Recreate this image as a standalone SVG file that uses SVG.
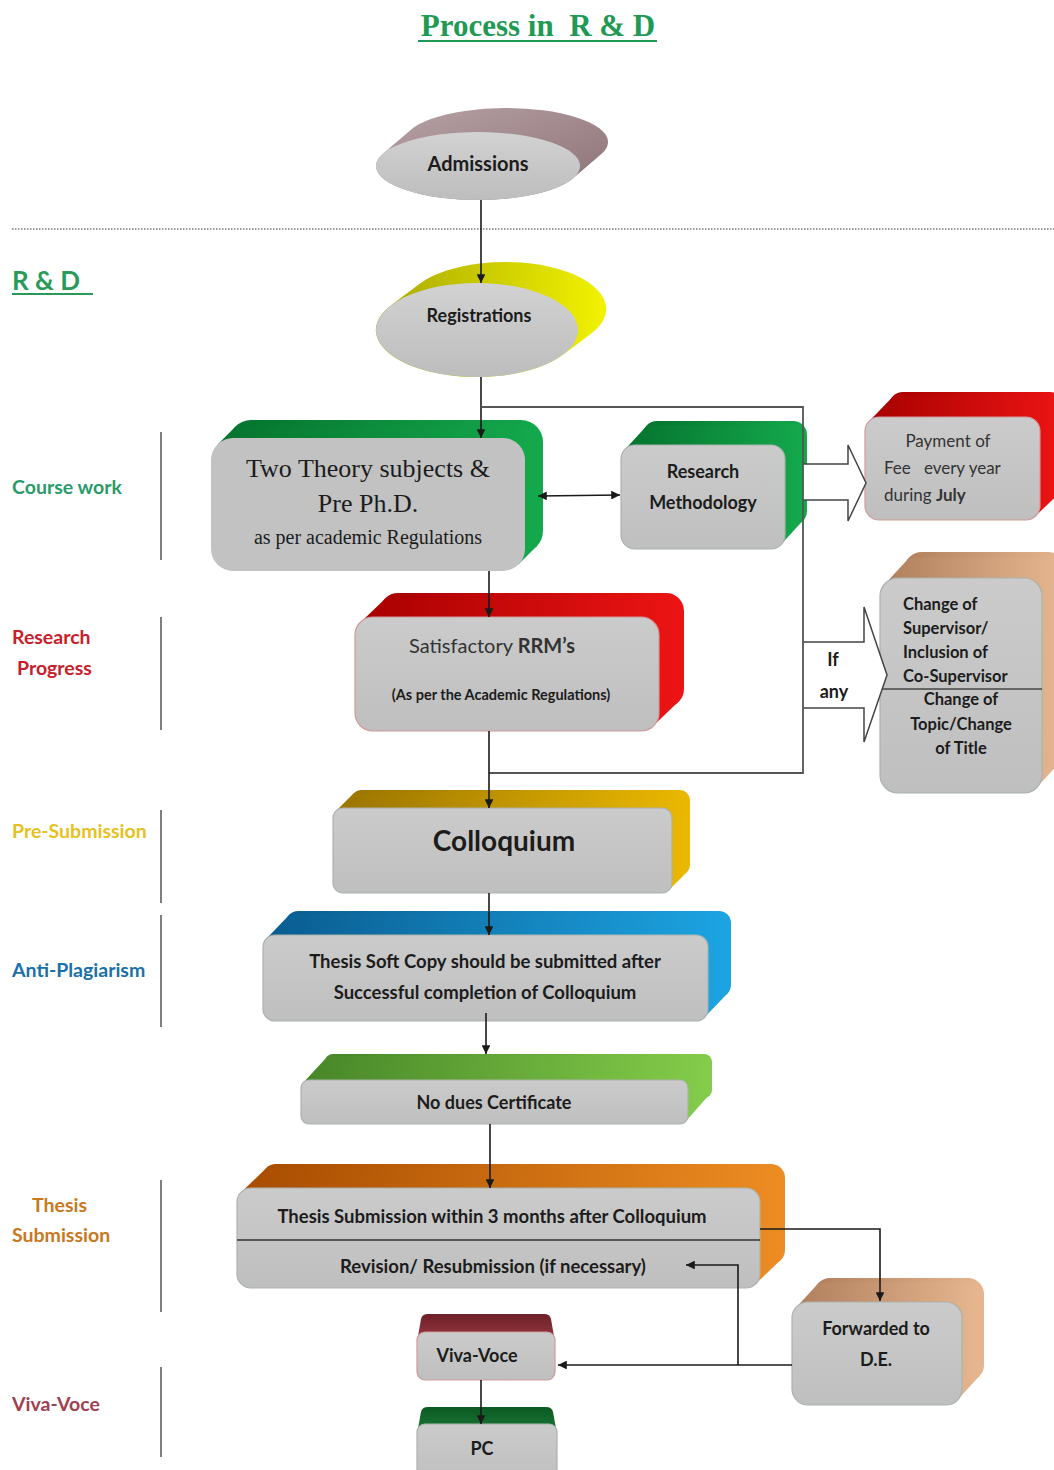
<svg xmlns="http://www.w3.org/2000/svg" width="1054" height="1470" viewBox="0 0 1054 1470">
<style>
text{font-family:Lato,"Open Sans","Liberation Sans",sans-serif;fill:#1c1c1c}
.b{font-weight:bold}
.c{text-anchor:middle}
.front{fill:url(#gFront);stroke:#a9b3ad;stroke-width:1.2}
.frontR{fill:url(#gFront);stroke:#d09a9a;stroke-width:1.2}
.conn{fill:none;stroke:#1a1a1a;stroke-width:1.6}
.loop{fill:none;stroke:#555;stroke-width:1.8}
.block{fill:#fff;stroke:#444;stroke-width:1.5}
.sep{stroke:#555;stroke-width:1.5}
.lbl{font-weight:bold;font-size:19.5px}
</style>
<defs>
<linearGradient id="gFront" x1="0" y1="0" x2="0" y2="1"><stop offset="0" stop-color="#cbcbcb"/><stop offset="1" stop-color="#bfbfbf"/></linearGradient>
<linearGradient id="gEll" x1="0" y1="0" x2="0" y2="1"><stop offset="0" stop-color="#d2d2d2"/><stop offset="1" stop-color="#bdbdbd"/></linearGradient>
<linearGradient id="gAdm" x1="0" y1="0" x2="1" y2="1"><stop offset="0" stop-color="#b9a3a6"/><stop offset="1" stop-color="#8a7074"/></linearGradient>
<linearGradient id="gReg" x1="0" y1="0" x2="1" y2="0"><stop offset="0" stop-color="#a8a800"/><stop offset="1" stop-color="#f2f200"/></linearGradient>
<linearGradient id="gGreen" x1="0" y1="0" x2="1" y2="0"><stop offset="0" stop-color="#05732e"/><stop offset="1" stop-color="#14a84c"/></linearGradient>
<linearGradient id="gRed" x1="0" y1="0" x2="1" y2="0"><stop offset="0" stop-color="#a80000"/><stop offset="1" stop-color="#ec1414"/></linearGradient>
<linearGradient id="gTan" x1="0" y1="0" x2="1" y2="0"><stop offset="0" stop-color="#b0805e"/><stop offset="1" stop-color="#e6b690"/></linearGradient>
<linearGradient id="gGold" x1="0" y1="0" x2="1" y2="0"><stop offset="0" stop-color="#9a7400"/><stop offset="1" stop-color="#eab800"/></linearGradient>
<linearGradient id="gBlue" x1="0" y1="0" x2="1" y2="0"><stop offset="0" stop-color="#0a5c90"/><stop offset="1" stop-color="#1ca4e2"/></linearGradient>
<linearGradient id="gLime" x1="0" y1="0" x2="1" y2="0"><stop offset="0" stop-color="#488628"/><stop offset="1" stop-color="#84cc4a"/></linearGradient>
<linearGradient id="gOrange" x1="0" y1="0" x2="1" y2="0"><stop offset="0" stop-color="#a84c00"/><stop offset="1" stop-color="#ec8c22"/></linearGradient>
<linearGradient id="gMaroon" x1="0" y1="0" x2="0" y2="1"><stop offset="0" stop-color="#6e2028"/><stop offset="1" stop-color="#9a3a44"/></linearGradient>
<linearGradient id="gDkGreen" x1="0" y1="0" x2="0" y2="1"><stop offset="0" stop-color="#0c5a22"/><stop offset="1" stop-color="#1a7a36"/></linearGradient>
<marker id="arr" viewBox="0 0 10 10" refX="10" refY="5" markerWidth="5.5" markerHeight="5.5" orient="auto-start-reverse" markerUnits="strokeWidth"><path d="M0,0 L10,5 L0,10 Z" fill="#1a1a1a"/></marker>
</defs>
<rect width="1054" height="1470" fill="#fff"/>

<!-- title -->
<g id="title">
<text x="538" y="36" class="c" style="font-family:'Liberation Serif',serif;font-weight:bold;font-size:31px;fill:#1e9a55" xml:space="preserve">Process in  R &amp; D</text>
<line x1="418" y1="41" x2="657" y2="41" stroke="#1e9a55" stroke-width="2"/>
</g>
<line x1="12" y1="229" x2="1054" y2="229" stroke="#777" stroke-width="1.6" stroke-dasharray="1.5,1.5"/>
<g id="rd-label">
<text x="12" y="290" style="font-weight:bold;font-size:26px;fill:#2a9a5a">R &amp; D</text>
<line x1="12" y1="294" x2="93" y2="294" stroke="#2a9a5a" stroke-width="2"/>
</g>

<!-- side labels -->
<g id="side-labels">
<text x="12" y="494" class="lbl" style="fill:#2a9a6a">Course work</text>
<line x1="161" y1="432" x2="161" y2="560" class="sep"/>
<text x="12" y="644" class="lbl" style="fill:#c8202a">Research</text>
<text x="17" y="675" class="lbl" style="fill:#c8202a">Progress</text>
<line x1="161" y1="617" x2="161" y2="730" class="sep"/>
<text x="12" y="838" class="lbl" style="fill:#e8c020">Pre-Submission</text>
<line x1="161" y1="810" x2="161" y2="903" class="sep"/>
<text x="12" y="977" class="lbl" style="fill:#1a70a8">Anti-Plagiarism</text>
<line x1="161" y1="915" x2="161" y2="1027" class="sep"/>
<text x="32" y="1212" class="lbl" style="fill:#c87820">Thesis</text>
<text x="12" y="1242" class="lbl" style="fill:#c87820">Submission</text>
<line x1="161" y1="1180" x2="161" y2="1312" class="sep"/>
<text x="12" y="1411" class="lbl" style="fill:#a04050">Viva-Voce</text>
<line x1="161" y1="1367" x2="161" y2="1457" class="sep"/>
</g>

<!-- Admissions -->
<g id="admissions">
<path d="M382.9,153.7 L410.9,129.7 A102,34 0 1 1 601.1,154.3 L573.1,178.3 A102,34 0 0 1 382.9,153.7 Z" fill="url(#gAdm)"/>
<ellipse cx="478" cy="166" rx="102" ry="34" fill="url(#gEll)"/>
<text x="478" y="171" class="b c" style="font-size:20px">Admissions</text>
</g>

<!-- Registrations -->
<g id="registrations">
<path d="M391,305.2 L419,284.2 A101,47 0 1 1 591,333.8 L563,354.8 A101,47 0 0 1 391,305.2 Z" fill="url(#gReg)"/>
<ellipse cx="477" cy="330" rx="101" ry="47" fill="url(#gEll)"/>
<text x="479" y="322" class="b c" style="font-size:18px">Registrations</text>
</g>

<!-- Two theory -->
<g id="two-theory">
<rect x="229" y="420" width="314" height="133" rx="22" fill="url(#gGreen)"/>
<polygon points="217.6,444.6 235.6,426.6 536.4,426.6 536.4,546.4 518.4,564.4" fill="url(#gGreen)"/>
<rect x="211" y="438" width="314" height="133" rx="22" fill="#c2c2c2"/>
<text x="368" y="477" class="c" style="font-family:'Liberation Serif',serif;font-size:26px">Two Theory subjects &amp;</text>
<text x="368" y="512" class="c" style="font-family:'Liberation Serif',serif;font-size:26px">Pre Ph.D.</text>
<text x="368" y="544" class="c" style="font-family:'Liberation Serif',serif;font-size:20px">as per academic Regulations</text>
</g>

<!-- Research Methodology -->
<g id="research-methodology">
<rect x="643" y="421" width="164" height="104" rx="14" fill="url(#gGreen)"/>
<polygon points="625.2,449.2 647.2,425.2 802.8,425.2 802.8,520.8 780.8,544.8" fill="url(#gGreen)"/>
<rect x="621" y="445" width="164" height="104" rx="14" class="front"/>
<text x="703" y="478" class="b c" style="font-size:18px">Research</text>
<text x="703" y="509" class="b c" style="font-size:18px">Methodology</text>
</g>

<!-- Payment -->
<g id="payment">
<rect x="889" y="392" width="175" height="103" rx="14" fill="url(#gRed)"/>
<polygon points="869.2,421.2 893.2,396.2 1060.8,396.2 1060.8,491.8 1035.8,515.8" fill="url(#gRed)"/>
<rect x="865" y="417" width="175" height="103" rx="14" class="frontR"/>
<text x="948" y="447" class="c" style="font-size:17px;fill:#333">Payment of</text>
<text x="884" y="474" style="font-size:17px;fill:#333" xml:space="preserve">Fee   every year</text>
<text x="884" y="501" style="font-size:17px;fill:#333">during <tspan class="b">July</tspan></text>
</g>

<!-- Change -->
<g id="change">
<rect x="904" y="552" width="162" height="215" rx="18" fill="url(#gTan)"/>
<polygon points="885.4,583.4 909.4,557.4 1060.6,557.4 1060.6,761.6 1036.6,787.6" fill="url(#gTan)"/>
<rect x="880" y="578" width="162" height="215" rx="18" class="front"/>
<line x1="880" y1="689" x2="1042" y2="689" stroke="#444" stroke-width="1.4"/>
<text x="903" y="610" class="b" style="font-size:16.5px">Change of</text>
<text x="903" y="634" class="b" style="font-size:16.5px">Supervisor/</text>
<text x="903" y="658" class="b" style="font-size:16.5px">Inclusion of</text>
<text x="903" y="682" class="b" style="font-size:16.5px">Co-Supervisor</text>
<text x="961" y="705" class="b c" style="font-size:16.5px">Change of</text>
<text x="961" y="730" class="b c" style="font-size:16.5px">Topic/Change</text>
<text x="961" y="754" class="b c" style="font-size:16.5px">of Title</text>
</g>

<!-- block arrows -->
<g id="block-arrows">
<path class="block" d="M803,464 L848,464 L848,445 L866,483 L848,521 L848,500 L803,500"/>
<path class="block" d="M803,642 L864,642 L864,607 L887,675 L864,742 L864,708 L803,708"/>
<text x="833" y="666" class="b c" style="font-size:18px">If</text>
<text x="834" y="698" class="b c" style="font-size:18px">any</text>
</g>

<!-- RRM -->
<g id="rrm">
<rect x="380" y="593" width="304" height="114" rx="18" fill="url(#gRed)"/>
<polygon points="360.4,622.4 385.4,598.4 678.6,598.4 678.6,701.6 653.6,725.6" fill="url(#gRed)"/>
<rect x="355" y="617" width="304" height="114" rx="18" class="frontR"/>
<text x="492" y="653" class="c" style="font-size:20px;fill:#333">Satisfactory <tspan class="b">RRM’s</tspan></text>
<text x="501" y="700" class="b c" style="font-size:14.5px">(As per the Academic Regulations)</text>
</g>

<!-- Colloquium -->
<g id="colloquium">
<rect x="351" y="790" width="339" height="85" rx="10" fill="url(#gGold)"/>
<polygon points="336,811 354,793 687,793 687,872 669,890" fill="url(#gGold)"/>
<rect x="333" y="808" width="339" height="85" rx="10" class="front"/>
<text x="504" y="851" class="b c" style="font-size:28px">Colloquium</text>
</g>

<!-- Anti-plagiarism -->
<g id="anti-plagiarism">
<rect x="286" y="911" width="445" height="86" rx="12" fill="url(#gBlue)"/>
<polygon points="266.6,938.6 289.6,914.6 727.4,914.6 727.4,993.4 704.4,1017.4" fill="url(#gBlue)"/>
<rect x="263" y="935" width="445" height="86" rx="12" class="front"/>
<text x="485" y="968" class="b c" style="font-size:18.5px">Thesis Soft Copy should be submitted after</text>
<text x="485" y="999" class="b c" style="font-size:18.5px">Successful completion of Colloquium</text>
</g>

<!-- No dues -->
<g id="no-dues">
<rect x="325" y="1054" width="387" height="44" rx="8" fill="url(#gLime)"/>
<polygon points="303.4,1082.4 327.4,1056.4 708.6,1056.4 708.6,1095.6 685.6,1121.6" fill="url(#gLime)"/>
<rect x="301" y="1080" width="387" height="44" rx="8" class="front"/>
<text x="494" y="1109" class="b c" style="font-size:18px">No dues Certificate</text>
</g>

<!-- Thesis submission -->
<g id="thesis-submission">
<rect x="262" y="1164" width="523" height="100" rx="14" fill="url(#gOrange)"/>
<polygon points="241.2,1192.2 266.2,1168.2 780.8,1168.2 780.8,1259.8 755.8,1283.8" fill="url(#gOrange)"/>
<rect x="237" y="1188" width="523" height="100" rx="14" class="front"/>
<line x1="237" y1="1240" x2="760" y2="1240" stroke="#555" stroke-width="2"/>
<text x="492" y="1223" class="b c" style="font-size:18.5px">Thesis Submission within 3 months after Colloquium</text>
<text x="493" y="1273" class="b c" style="font-size:18.5px">Revision/ Resubmission (if necessary)</text>
</g>

<!-- Forwarded -->
<g id="forwarded">
<rect x="814" y="1278" width="170" height="103" rx="16" fill="url(#gTan)"/>
<polygon points="796.8,1306.8 818.8,1282.8 979.2,1282.8 979.2,1376.2 957.2,1400.2" fill="url(#gTan)"/>
<rect x="792" y="1302" width="170" height="103" rx="16" class="front"/>
<text x="876" y="1335" class="b c" style="font-size:18px">Forwarded to</text>
<text x="876" y="1366" class="b c" style="font-size:18px">D.E.</text>
</g>

<!-- Viva -->
<g id="viva-voce">
<path d="M417,1342 L421,1319 Q422,1314 428,1314 L544,1314 Q550,1314 551,1319 L555,1342 Z" fill="url(#gMaroon)"/>
<rect x="417" y="1332" width="138" height="48" rx="8" class="frontR"/>
<text x="477" y="1362" class="b c" style="font-size:18px">Viva-Voce</text>
</g>

<!-- PC -->
<g id="pc">
<path d="M417,1434 L421,1412 Q422,1407 428,1407 L546,1407 Q552,1407 553,1412 L557,1434 Z" fill="url(#gDkGreen)"/>
<rect x="417" y="1424" width="140" height="56" rx="8" class="front"/>
<text x="482" y="1455" class="b c" style="font-size:18px">PC</text>
</g>

<!-- connectors -->
<g id="connectors">
<path class="conn" d="M481,200 L481,283" marker-end="url(#arr)"/>
<path class="conn" d="M481,377 L481,438" marker-end="url(#arr)"/>
<path class="loop" d="M481,407 L803,407 L803,773 L489,773"/>
<path class="conn" d="M489,571 L489,617" marker-end="url(#arr)"/>
<path class="conn" d="M538,496 L620,495" marker-start="url(#arr)" marker-end="url(#arr)"/>
<path class="conn" d="M489,731 L489,808" marker-end="url(#arr)"/>
<path class="conn" d="M489,893 L489,935" marker-end="url(#arr)"/>
<path class="conn" d="M486,1013 L486,1054" marker-end="url(#arr)"/>
<path class="conn" d="M490,1124 L490,1188" marker-end="url(#arr)"/>
<path class="conn" d="M760,1229 L880,1229 L880,1301" marker-end="url(#arr)"/>
<path class="conn" d="M792,1365 L558,1365" marker-end="url(#arr)"/>
<path class="conn" d="M738,1365 L738,1265 L686,1265" marker-end="url(#arr)"/>
<path class="conn" d="M481,1380 L481,1424" marker-end="url(#arr)"/>
</g>
</svg>
